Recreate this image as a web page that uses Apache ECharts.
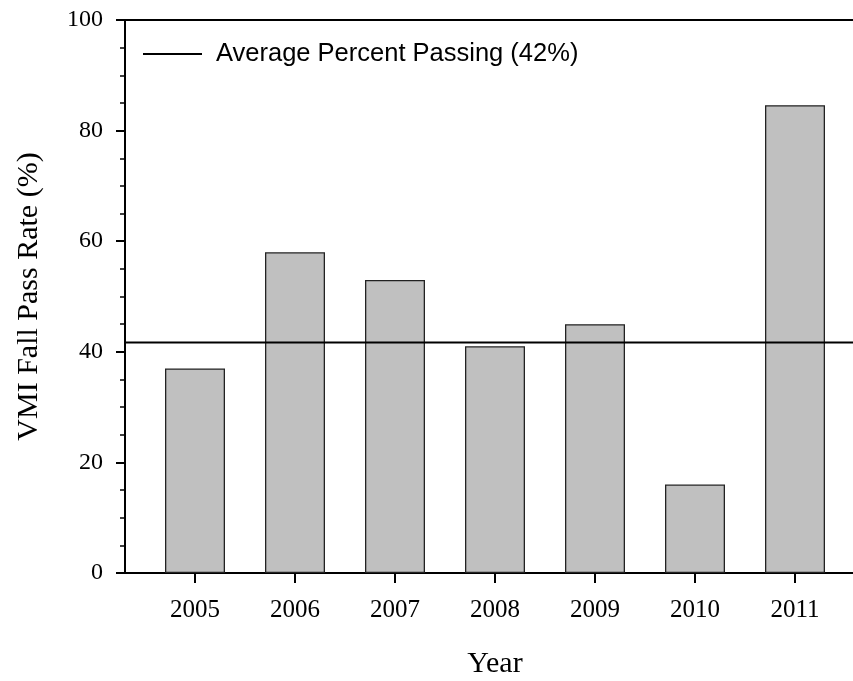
<!DOCTYPE html>
<html>
<head>
<meta charset="utf-8">
<script src="https://cdn.jsdelivr.net/npm/echarts@6/dist/echarts.min.js"></script>
<style>
  html, body { margin: 0; padding: 0; background: #fff; }
  #chart { width: 853px; height: 681px; }
</style>
</head>
<body>
<div id="chart"></div>
<script>
// Fall pass rates by year
const years = [2005, 2006, 2007, 2008, 2009, 2010, 2011];
const passRates = [37, 58, 53, 41, 45, 16, 84.6];
const averagePassing = 41.7;
const yTicks = [0, 20, 40, 60, 80, 100];

const avgName = 'Average Percent Passing (' + Math.round(averagePassing) + '%)';
const xMin = 2004.3, xMax = 2011.7;

const serif = 'Liberation Serif, Times New Roman, serif';
const chart = echarts.init(document.getElementById('chart'), null, { renderer: 'canvas' });

chart.setOption({
  animation: false,
  backgroundColor: '#fff',
  grid: {
    left: 125, top: 20, width: 740, height: 553,
    outerBoundsMode: 'none'
  },
  legend: {
    left: 143, top: 41, padding: 0,
    data: [{ name: avgName, icon: 'rect' }],
    itemWidth: 59, itemHeight: 2, itemGap: 10,
    textStyle: { fontFamily: 'Liberation Sans, Arial, sans-serif', fontSize: 25.5, color: '#000', padding: [0, 0, 0, 9] }
  },
  xAxis: [
    {
      type: 'value', min: xMin, max: xMax,
      name: 'Year', nameLocation: 'middle', nameGap: 76,
      nameTextStyle: { fontFamily: serif, fontSize: 30, color: '#000' },
      axisLine: { show: true, lineStyle: { color: '#000', width: 2 } },
      axisTick: { show: true, length: 10, lineStyle: { color: '#000', width: 2 }, customValues: years },
      axisLabel: {
        customValues: years, margin: 25,
        fontFamily: serif, fontSize: 25, color: '#000',
        formatter: v => String(v)
      },
      splitLine: { show: false }
    },
    {
      // frame line along the top of the plot
      type: 'value', position: 'top', min: xMin, max: xMax,
      axisLine: { show: true, lineStyle: { color: '#000', width: 2 } },
      axisTick: { show: false }, axisLabel: { show: false }, splitLine: { show: false }
    }
  ],
  yAxis: {
    type: 'value', min: 0, max: 100, interval: 20,
    name: 'VMI Fall Pass Rate (%)', nameLocation: 'middle', nameGap: 81,
    nameTextStyle: { fontFamily: serif, fontSize: 30, color: '#000' },
    axisLine: { show: true, lineStyle: { color: '#000', width: 2 } },
    axisTick: { show: true, length: 9, lineStyle: { color: '#000', width: 2 } },
    minorTick: { show: true, splitNumber: 4, length: 5, lineStyle: { color: '#000', width: 1.5 } },
    axisLabel: {
      margin: 22,
      fontFamily: serif, fontSize: 24, color: '#000',
      formatter: v => yTicks.includes(v) ? String(v) : ''
    },
    splitLine: { show: false }
  },
  series: [
    {
      type: 'bar',
      name: 'Pass Rate',
      barWidth: 60,
      data: years.map((y, i) => [y, passRates[i]]),
      itemStyle: { color: '#c0c0c0', borderColor: '#222', borderWidth: 1.3 }
    },
    {
      type: 'line',
      name: avgName,
      data: [[xMin, averagePassing], [xMax, averagePassing]],
      symbol: 'none',
      lineStyle: { color: '#000', width: 2 },
      itemStyle: { color: '#000' },
      z: 5
    }
  ]
});
</script>
</body>
</html>
